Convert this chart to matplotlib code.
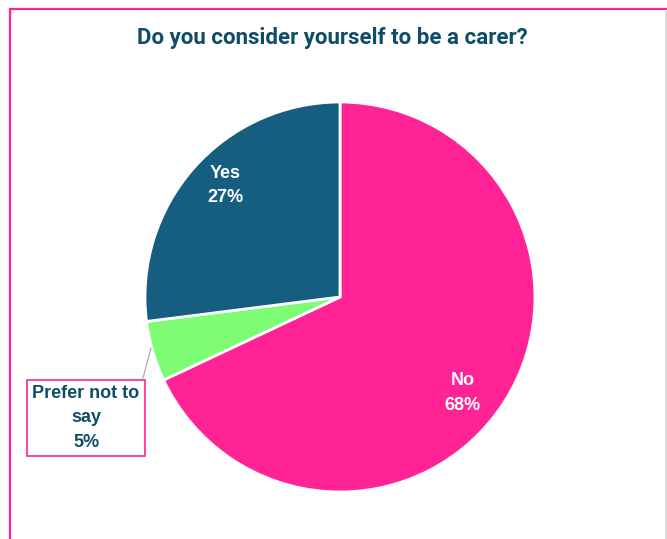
import numpy as np
import matplotlib.pyplot as plt
from matplotlib.patches import Rectangle

labels = ['No', 'Prefer not to\nsay', 'Yes']
values = [68, 5, 27]
colors = ['#FF2396', '#7DFC74', '#165E80']
text_colors = ['white', '#0F4C68', 'white']

title = 'Do you consider yourself to be a carer?'
navy = '#0F4C68'
pink = '#FF2396'

W, H = 667, 539
fig = plt.figure(figsize=(W / 100, H / 100), dpi=100)
fig.patch.set_facecolor('white')

# outer frame (cut off at right / bottom like the screenshot)
fig.patches.append(Rectangle((10 / W, -0.05), 1.2, 1 - 9 / H + 0.05, transform=fig.transFigure,
                             fill=False, edgecolor=pink, lw=1.6, clip_on=False))
fig.patches.append(Rectangle((665 / W, 0), 0.01, 1 - 11 / H, transform=fig.transFigure,
                             fill=True, facecolor='#d9d9d9', edgecolor='none'))

# pie axes: centre (340, 297), radius 195 px
cx, cy, r = 340, 297, 195
ax = fig.add_axes([(cx - r) / W, (H - cy - r) / H, 2 * r / W, 2 * r / H])
wedges, _ = ax.pie(values, colors=colors, startangle=90, counterclock=False,
                   wedgeprops=dict(edgecolor='white', linewidth=2))
ax.set_xlim(-1, 1)
ax.set_ylim(-1, 1)
ax.set_aspect('equal')
ax.axis('off')

font = dict(family=['Liberation Sans', 'DejaVu Sans'],
            fontweight='bold', fontsize=13, ha='center', va='center', linespacing=1.55)

# label positions in data units (angle in degrees, distance from centre)
label_pos = {'No': (-38, 0.8), 'Yes': (135.7, 0.82)}
for lab, v, tc in zip(labels, values, text_colors):
    txt = '%s\n%d%%' % (lab, v)
    if lab in label_pos:
        a, d = label_pos[lab]
        ax.text(d * np.cos(np.radians(a)), d * np.sin(np.radians(a)), txt, color=tc, **font)
    else:
        # boxed label outside, with leader line
        bx, by = (86 - cx) / r, (cy - 418) / r
        ax.text(bx, by, txt, color=tc, clip_on=False,
                bbox=dict(boxstyle='square,pad=0.3', facecolor='white', edgecolor=pink, lw=1.2),
                **font)
        ax.plot([(143 - cx) / r, (151 - cx) / r], [(cy - 378) / r, (cy - 348) / r],
                color='#a6a6a6', lw=0.8, clip_on=False)

fig.text(332 / W, 1 - 38 / H, title, ha='center', va='center', fontsize=16,
         fontweight='bold', color=navy, family=['Roboto', 'DejaVu Sans'])

fig.savefig('out.png', dpi=100)
